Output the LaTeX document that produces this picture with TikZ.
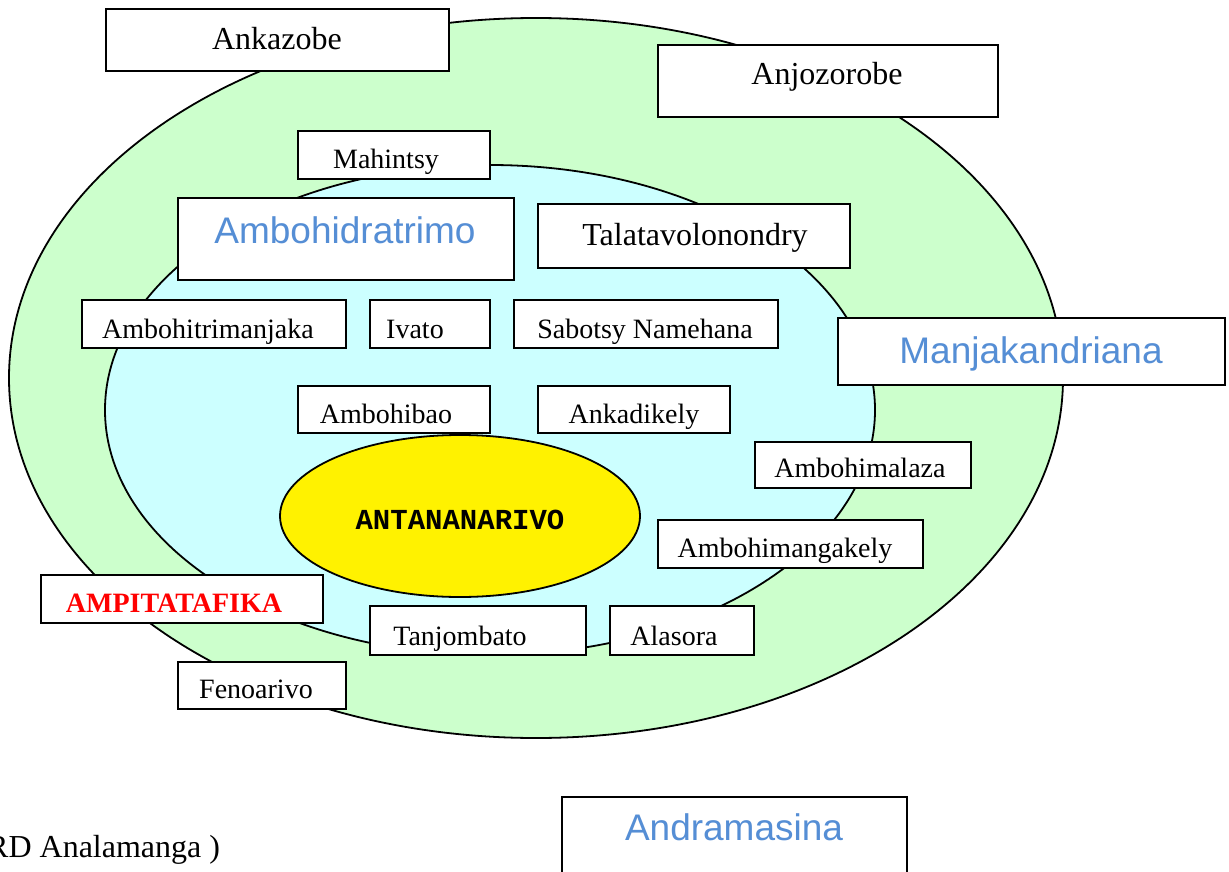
\documentclass[tikz,border=0pt]{standalone}
\usepackage{fontspec}
\setmainfont{Liberation Serif}
\setsansfont{Liberation Sans}
\setmonofont{Liberation Mono}
\definecolor{outergreen}{RGB}{204,255,204}
\definecolor{innercyan}{RGB}{204,255,255}
\definecolor{districtblue}{RGB}{85,142,213}
\tikzset{
  zone/.style={draw=black, line width=1.8pt},
  box/.style={draw=black, fill=white, line width=2pt},
  bigname/.style={anchor=base, inner sep=0pt, font=\fontsize{32}{38}\selectfont},
  smallname/.style={anchor=base, inner sep=0pt, font=\fontsize{28}{34}\selectfont},
  district/.style={anchor=base, inner sep=0pt, text=districtblue, font=\sffamily\fontsize{37}{44}\selectfont},
}
\begin{document}
\begin{tikzpicture}[x=1pt,y=-1pt]
\useasboundingbox (0,0) rectangle (1229,872);
\clip (0,0) rectangle (1229,872);
\filldraw[zone, fill=outergreen] (536,378) ellipse [x radius=527, y radius=360];
\filldraw[zone, fill=innercyan] (490,410) ellipse [x radius=385, y radius=245];
\filldraw[zone, fill=yellow] (460,516) ellipse [x radius=180, y radius=81];
\node[anchor=base, inner sep=0pt, font=\ttfamily\bfseries\fontsize{29}{34}\selectfont] (antananarivo) at (460,529) {ANTANANARIVO};
\filldraw[box] (106,9) rectangle (449,71);
\node[bigname] (ankazobe) at (277,50) {Ankazobe};
\filldraw[box] (658,45) rectangle (998,117);
\node[bigname] (anjozorobe) at (827,85) {Anjozorobe};
\filldraw[box] (298,131) rectangle (490,179);
\node[smallname] (mahintsy) at (386,168) {Mahintsy};
\filldraw[box] (178,198) rectangle (514,280);
\node[district] (ambohidratrimo) at (345,243) {Ambohidratrimo};
\filldraw[box] (538,204) rectangle (850,268);
\node[bigname] (talatavolonondry) at (695,245) {Talatavolonondry};
\filldraw[box] (82,300) rectangle (346,348);
\node[smallname] (ambohitrimanjaka) at (208,338) {Ambohitrimanjaka};
\filldraw[box] (370,300) rectangle (490,348);
\node[smallname] (ivato) at (415,338) {Ivato};
\filldraw[box] (514,300) rectangle (778,348);
\node[smallname] (sabotsy) at (645,338) {Sabotsy Namehana};
\filldraw[box] (838,318) rectangle (1225,385);
\node[district] (manjakandriana) at (1031,363) {Manjakandriana};
\filldraw[box] (298,386) rectangle (490,433);
\node[smallname] (ambohibao) at (386,423) {Ambohibao};
\filldraw[box] (538,386) rectangle (730,433);
\node[smallname] (ankadikely) at (634,423) {Ankadikely};
\filldraw[box] (755,442) rectangle (971,488);
\node[smallname] (ambohimalaza) at (860,477) {Ambohimalaza};
\filldraw[box] (658,520) rectangle (923,568);
\node[smallname] (ambohimangakely) at (785,557) {Ambohimangakely};
\filldraw[box] (41,575) rectangle (323,623);
\node[smallname, text=red, font=\bfseries\fontsize{28}{34}\selectfont] (ampitatafika) at (174,612) {AMPITATAFIKA};
\filldraw[box] (370,606) rectangle (586,655);
\node[smallname] (tanjombato) at (460,645) {Tanjombato};
\filldraw[box] (610,606) rectangle (754,655);
\node[smallname] (alasora) at (674,645) {Alasora};
\filldraw[box] (178,662) rectangle (346,709);
\node[smallname] (fenoarivo) at (256,698) {Fenoarivo};
\filldraw[box] (562,797) rectangle (907,890);
\node[district] (andramasina) at (734,840) {Andramasina};
\node[bigname, anchor=base west] (source) at (-13,857) {RD Analamanga )};
\end{tikzpicture}
\end{document}
